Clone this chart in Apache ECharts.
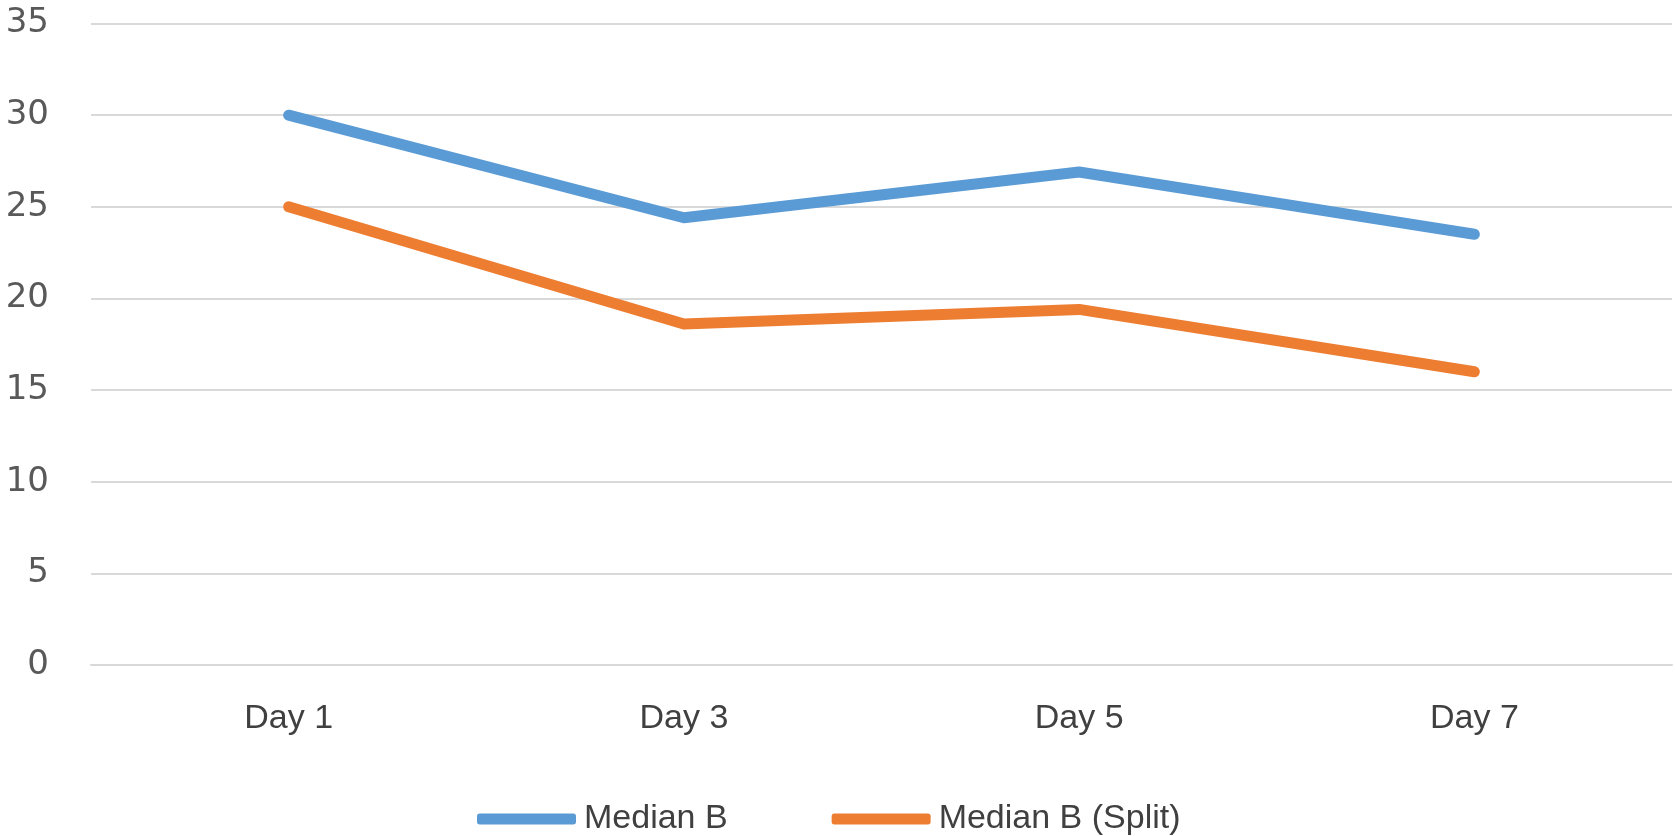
<!DOCTYPE html>
<html>
<head>
<meta charset="utf-8">
<script src="https://cdn.jsdelivr.net/npm/echarts@6/dist/echarts.min.js"></script>
<style>html,body{margin:0;padding:0;background:#fff;}#c{width:1675px;height:836px;}</style>
</head>
<body>
<div id="c"></div>
<script>
const categories = ['Day 1', 'Day 3', 'Day 5', 'Day 7'];
const medianB = [30, 24.4, 26.9, 23.5];
const medianBSplit = [25, 18.6, 19.4, 16];
const seriesNames = ['Median B', 'Median B (Split)'];

const chart = echarts.init(document.getElementById('c'));
chart.setOption({
  backgroundColor: '#ffffff',
  animation: false,
  grid: { left: 91, right: 3, top: 23.5, bottom: 171 },
  legend: {
    data: seriesNames,
    left: 472,
    top: 794,
    itemWidth: 99,
    itemHeight: 11,
    itemGap: 104,
    icon: 'roundRect',
    textStyle: { fontFamily: 'Liberation Sans', fontSize: 34, color: '#404040', lineHeight: 40, padding: [0,0,0,3] }
  },
  xAxis: {
    type: 'category',
    data: categories,
    boundaryGap: true,
    axisLine: { lineStyle: { color: '#d9d9d9', width: 2 } },
    axisTick: { show: false },
    axisLabel: { fontFamily: 'Liberation Sans', fontSize: 34, color: '#404040', margin: 37 }
  },
  yAxis: {
    type: 'value',
    min: 0, max: 35, interval: 5,
    axisLine: { show: false },
    axisTick: { show: false },
    splitLine: { lineStyle: { color: '#d9d9d9', width: 2 } },
    axisLabel: { fontFamily: 'DejaVu Sans', fontSize: 34, color: '#595959', margin: 42 }
  },
  series: [
    { name: seriesNames[0], type: 'line', data: medianB, symbol: 'none',
      lineStyle: { color: '#5b9bd5', width: 11, cap: 'round', join: 'round' }, itemStyle: { color: '#5b9bd5' } },
    { name: seriesNames[1], type: 'line', data: medianBSplit, symbol: 'none',
      lineStyle: { color: '#ed7d31', width: 11, cap: 'round', join: 'round' }, itemStyle: { color: '#ed7d31' } }
  ]
});
</script>
</body>
</html>
